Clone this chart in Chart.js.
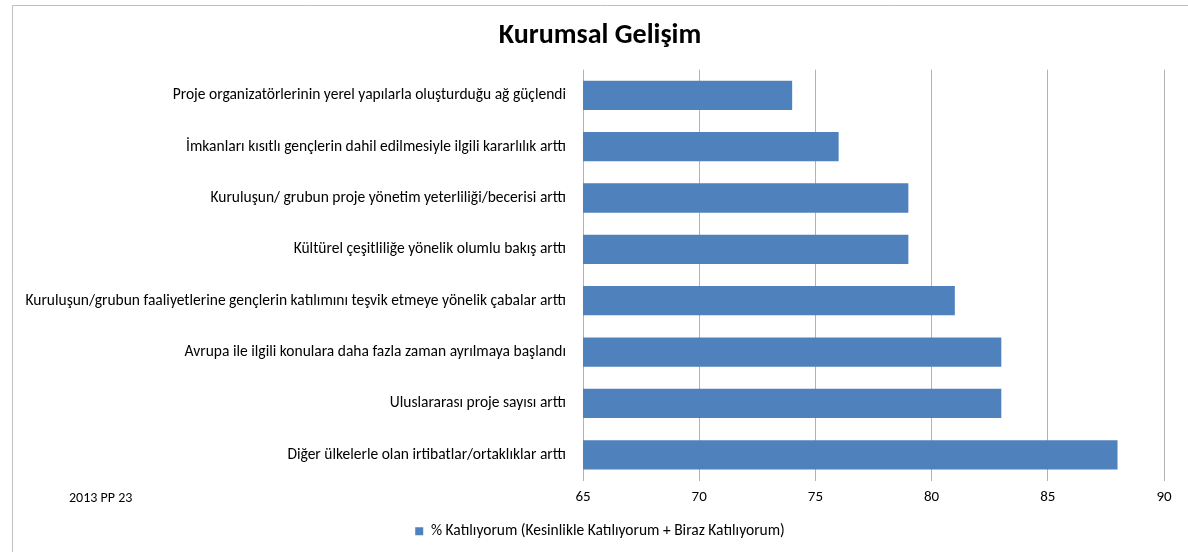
<!DOCTYPE html>
<html>
<head>
<meta charset="utf-8">
<script src="https://cdn.jsdelivr.net/npm/chart.js@4.4.1/dist/chart.umd.min.js"></script>
<style>
  html, body { margin: 0; padding: 0; background: #ffffff; }
  #wrap { width: 1188px; height: 552px; position: relative; }
</style>
</head>
<body>
<div id="wrap"><canvas id="c" width="1188" height="552"></canvas></div>
<script>
const titleText = "Kurumsal Gelişim";
const categories = [
  "Proje organizatörlerinin yerel yapılarla oluşturduğu ağ güçlendi",
  "İmkanları kısıtlı gençlerin dahil edilmesiyle ilgili kararlılık arttı",
  "Kuruluşun/ grubun proje yönetim yeterliliği/becerisi arttı",
  "Kültürel çeşitliliğe yönelik olumlu bakış arttı",
  "Kuruluşun/grubun faaliyetlerine gençlerin katılımını teşvik etmeye yönelik çabalar arttı",
  "Avrupa ile ilgili konulara daha fazla zaman ayrılmaya başlandı",
  "Uluslararası proje sayısı arttı",
  "Diğer ülkelerle olan irtibatlar/ortaklıklar arttı"
];
const seriesName = "% Katılıyorum (Kesinlikle Katılıyorum + Biraz Katılıyorum)";
const values = [74, 76, 79, 79, 81, 83, 83, 88];
const xMin = 65, xMax = 90, xStep = 5;
const footNote = "2013 PP 23";

const FONT = 'Carlito, "Liberation Sans Narrow", "Open Sans", "Liberation Sans", sans-serif';

const framePlugin = {
  id: 'frame',
  beforeDraw(chart) {
    const ctx = chart.ctx;
    ctx.save();
    ctx.fillStyle = '#ffffff';
    ctx.fillRect(0, 0, chart.width, chart.height);
    ctx.strokeStyle = '#bfbfbf';
    ctx.lineWidth = 1;
    ctx.beginPath();
    ctx.moveTo(12.5, chart.height);
    ctx.lineTo(12.5, 5.5);
    ctx.lineTo(chart.width, 5.5);
    ctx.stroke();
    ctx.restore();
  },
  afterDraw(chart) {
    const ctx = chart.ctx;
    ctx.save();
    ctx.fillStyle = '#000000';
    ctx.font = '14px ' + FONT;
    ctx.textBaseline = 'middle';
    ctx.textAlign = 'left';
    ctx.fillText(footNote, 69, 498);
    ctx.restore();
  }
};

new Chart(document.getElementById('c'), {
  type: 'bar',
  data: {
    labels: categories,
    datasets: [{
      label: seriesName,
      data: values,
      backgroundColor: '#4f81bd',
      borderWidth: 0,
      barPercentage: 0.57,
      categoryPercentage: 1.0
    }]
  },
  options: {
    indexAxis: 'y',
    responsive: false,
    animation: false,
    devicePixelRatio: 1,
    layout: { padding: { left: 12, right: 0, top: 0, bottom: 3 } },
    plugins: {
      title: {
        display: true,
        text: titleText,
        color: '#000000',
        font: { family: FONT, size: 28, weight: 'bold' },
        padding: { top: 19, bottom: 17 }
      },
      legend: {
        display: true,
        position: 'bottom',
        labels: {
          color: '#000000',
          font: { family: FONT, size: 15.5 },
          boxWidth: 8,
          boxHeight: 8,
          padding: 10
        }
      },
      tooltip: { enabled: false }
    },
    scales: {
      x: {
        min: xMin,
        max: xMax,
        ticks: {
          stepSize: xStep,
          color: '#000000',
          font: { family: FONT, size: 15 },
          padding: 8
        },
        grid: { color: '#b3b3b3', drawTicks: false },
        border: { display: false },
        afterFit(axis) { axis.height = 33; }
      },
      y: {
        ticks: {
          color: '#000000',
          font: { family: FONT, size: 15.5 },
          padding: 17,
          autoSkip: false
        },
        grid: { display: false, drawTicks: false },
        border: { display: false },
        afterFit(axis) { axis.width = 571; }
      },
      yRight: {
        type: 'category',
        position: 'right',
        labels: categories,
        ticks: { display: false },
        grid: { display: false, drawTicks: false },
        border: { display: false },
        afterFit(axis) { axis.width = 24; }
      }
    }
  },
  plugins: [framePlugin]
});
</script>
</body>
</html>
